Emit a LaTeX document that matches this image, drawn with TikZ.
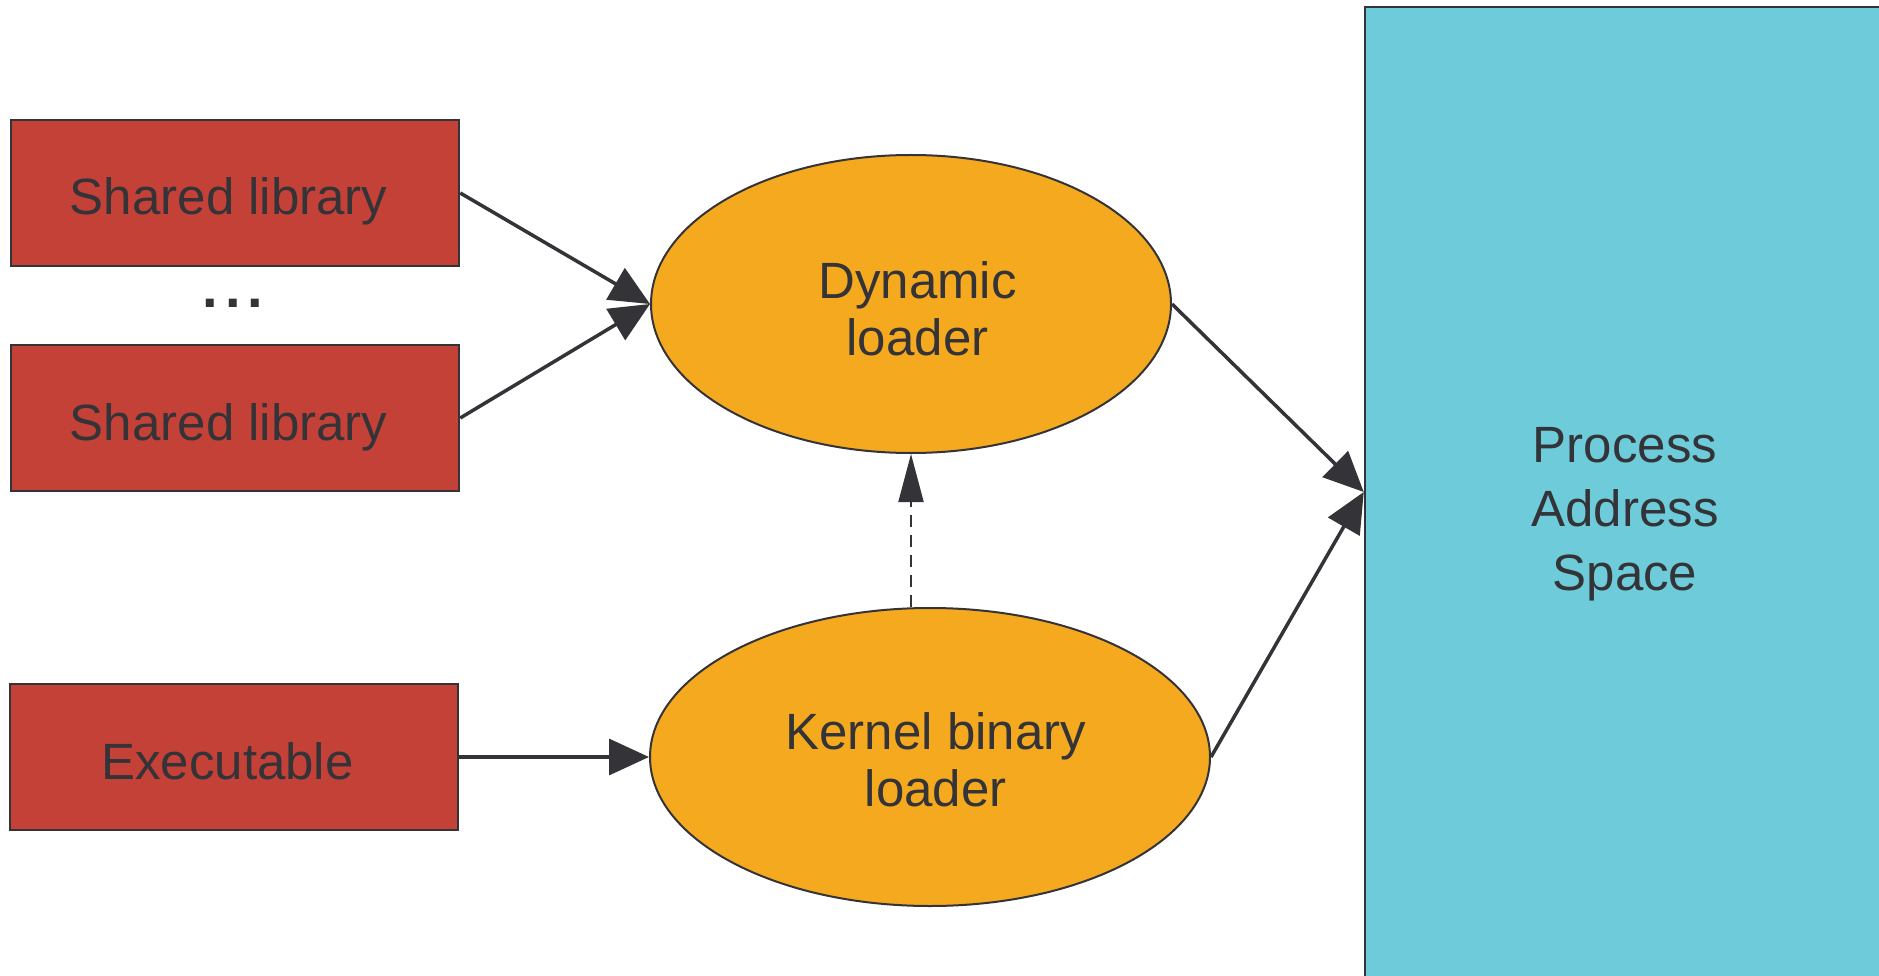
\documentclass[tikz,border=0pt]{standalone}
\usepackage{fontspec}
\setmainfont{Liberation Sans}
\usetikzlibrary{arrows.meta,shapes.geometric,calc}
\definecolor{boxred}{HTML}{C44137}
\definecolor{ldorange}{HTML}{F5A91F}
\definecolor{pascyan}{HTML}{6ECBD9}
\definecolor{ink}{HTML}{333338}
\tikzset{
  libbox/.style={draw=ink, line width=2.5pt, fill=boxred, text=ink, minimum width=448pt, minimum height=146pt, inner sep=0pt, text height=44pt, text depth=0pt, font=\fontsize{51}{56}\selectfont},
  loader/.style={ellipse, draw=ink, line width=2pt, fill=ldorange, text=ink, inner sep=0pt, align=center, text depth=0pt, font=\fontsize{51}{57}\selectfont},
  pasbox/.style={draw=ink, line width=2.5pt, fill=pascyan, text=ink, inner sep=0pt, align=center, text depth=0pt, font=\fontsize{51}{64}\selectfont},
  conn/.style={draw=ink, line width=3.5pt, -{Triangle[length=40pt,width=36pt]}},
  dashconn/.style={draw=ink, line width=2pt, dash pattern=on 12pt off 8pt, -{Triangle[length=48pt,width=25pt]}}
}
\begin{document}
\begin{tikzpicture}[x=1pt,y=-1pt]
\useasboundingbox (0,0) rectangle (1879,976);
\clip (0,0) rectangle (1879,976);
\node[libbox] (sl1) at (235,193) {\hspace*{-12.6pt}Shared library};
\node[libbox] (sl2) at (235,418) {\hspace*{-12.6pt}Shared library};
\node[libbox] (exe) at (234,757) {\hspace*{-13pt}Executable};
\node[anchor=base, text=ink, inner sep=0pt, font=\bfseries\fontsize{56}{60}\selectfont] (dots) at (233,308) {.\hspace{6.9pt}.\hspace{6.9pt}.};
\node[loader, minimum width=520pt, minimum height=298pt, text height=102pt] (dyn) at (911,304) {\hspace*{13pt}Dynamic\\\hspace*{13pt}loader};
\node[loader, minimum width=560pt, minimum height=298pt, text height=98pt] (ker) at (930,757) {\hspace*{11.6pt}Kernel binary\\\hspace*{11.6pt}loader};
\node[pasbox, minimum width=520pt, minimum height=1004pt, text height=162pt] (pas) at (1625,509) {Process\\Address\\Space};
\coordinate (pin) at (pas.west |- 0,492);
\coordinate (dsrc) at (dyn.south |- ker.north);
\draw[conn] (sl1.east) -- (dyn.west);
\draw[conn] (sl2.east) -- (dyn.west);
\draw[conn] (exe.east) -- (ker.west);
\draw[dashconn] (dsrc) -- (dyn.south);
\draw[conn] (dyn.east) -- (pin);
\draw[conn] (ker.east) -- (pin);
\end{tikzpicture}
\end{document}
